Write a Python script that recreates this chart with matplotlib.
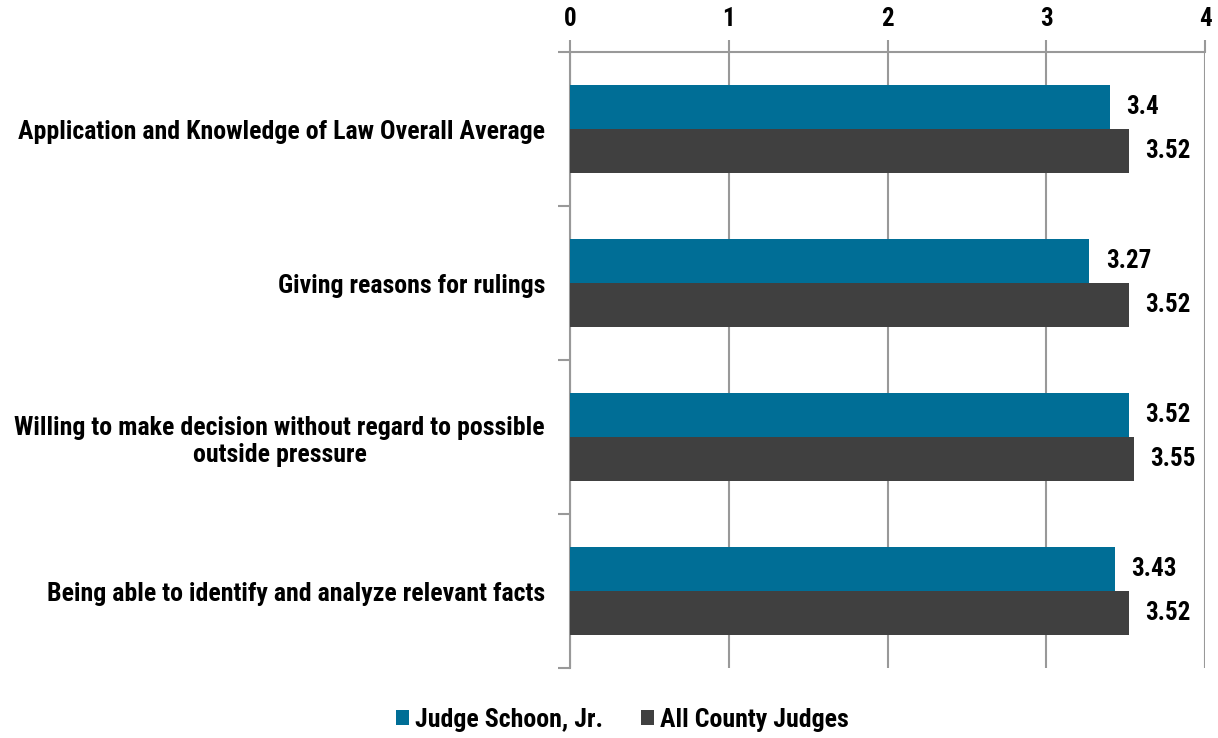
import matplotlib
matplotlib.use("Agg")
import matplotlib.pyplot as plt
from matplotlib import font_manager
import numpy as np

categories = [
    "Application and Knowledge of Law Overall Average",
    "Giving reasons for rulings",
    "Willing to make decision without regard to possible\noutside pressure",
    "Being able to identify and analyze relevant facts",
]
judge_vals = [3.4, 3.27, 3.52, 3.43]
county_vals = [3.52, 3.52, 3.55, 3.52]
judge_labels = ["3.4", "3.27", "3.52", "3.43"]
county_labels = ["3.52", "3.52", "3.55", "3.52"]
series_names = ["Judge Schoon, Jr.", "All County Judges"]
xticks = [0, 1, 2, 3, 4]

available = {f.name for f in font_manager.fontManager.ttflist}
fams = [f for f in ['Roboto Condensed', 'Liberation Sans Narrow', 'Archivo Narrow', 'Liberation Sans']
        if f in available] + ['DejaVu Sans']
plt.rcParams['font.family'] = fams
plt.rcParams['font.weight'] = 'bold'

teal = "#006E96"
dark = "#404040"
grid = "#999999"

FS_CAT = 18.6
FS_VAL = 18

fig = plt.figure(figsize=(12.18, 7.38), dpi=100)
ax = fig.add_axes([570/1218, 1 - 668/738, (1205-570)/1218, (668-52)/738])

n = len(categories)
y = np.arange(n)
h = 0.286
ax.barh(y - h/2, judge_vals, height=h, color=teal, label=series_names[0], zorder=3)
ax.barh(y + h/2, county_vals, height=h, color=dark, label=series_names[1], zorder=3)

for i in range(n):
    ax.text(judge_vals[i] + 0.105, y[i] - h/2, judge_labels[i], va='center', ha='left',
            fontsize=FS_VAL, fontweight='bold', color='black')
    ax.text(county_vals[i] + 0.105, y[i] + h/2, county_labels[i], va='center', ha='left',
            fontsize=FS_VAL, fontweight='bold', color='black')

ax.set_xlim(0, 4)
ax.set_ylim(n - 0.5, -0.5)
ax.xaxis.tick_top()
ax.set_xticks(xticks)
ax.set_xticklabels([str(t) for t in xticks], fontsize=FS_VAL, fontweight='bold')
ax.tick_params(axis='x', length=9, width=1.5, color=grid, pad=6)
ax.xaxis.grid(True, color=grid, linewidth=1.5, zorder=0)

ax.set_yticks(np.arange(-0.5, n, 1.0))
ax.set_yticklabels([""] * (n + 1))
ax.set_yticks(y, minor=True)
labs = ax.set_yticklabels(categories, minor=True, fontsize=FS_CAT, fontweight='bold', ha='right')
for t in labs:
    t.set_multialignment('center')
ax.tick_params(axis='y', which='minor', length=0, pad=18)
ax.tick_params(axis='y', which='major', length=9, width=1.5, color=grid)

for s in ['right', 'bottom']:
    ax.spines[s].set_visible(False)
for s in ['top', 'left']:
    ax.spines[s].set_color(grid)
    ax.spines[s].set_linewidth(1.5)

fig.legend(loc='center', bbox_to_anchor=(622.5/1218, 1 - 720/738), ncol=2, frameon=False,
           handlelength=0.5, handleheight=0.5, handletextpad=0.25, columnspacing=1.45,
           prop={'family': fams, 'weight': 'bold', 'size': FS_CAT})

fig.savefig("out.png", dpi=100)
